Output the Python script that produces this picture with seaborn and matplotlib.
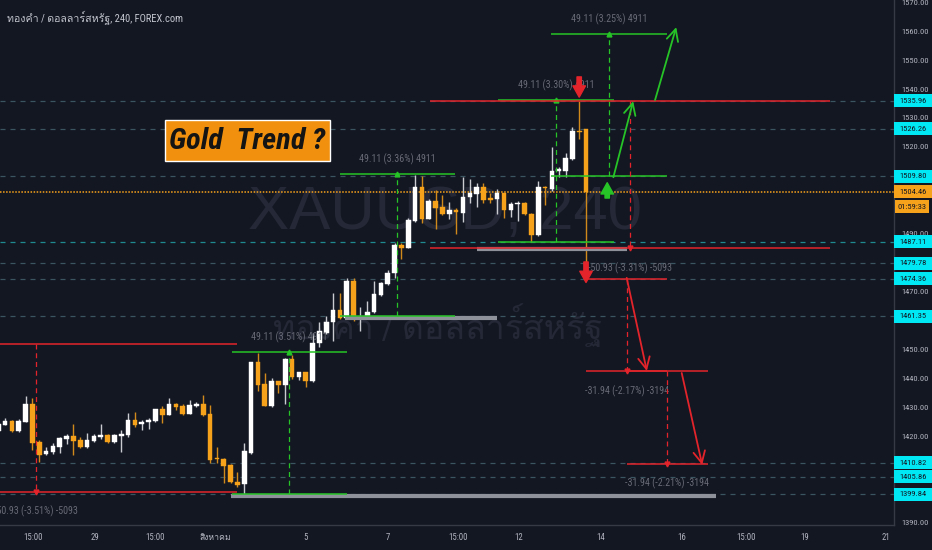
import numpy as np
import pandas as pd
import matplotlib
matplotlib.use("Agg")
import matplotlib.pyplot as plt
import matplotlib.transforms as mtransforms
from matplotlib.patches import Rectangle
from matplotlib import font_manager
from matplotlib.ft2font import FT2Font
import seaborn as sns

# 4H candles, XAUUSD
opens = [
    1421.7, 1423.8, 1425.3, 1421.7, 1424.9, 1431.2, 1417.8, 1413.7, 1414.6, 1416.1,
    1418.8, 1420.0, 1418.6, 1416.1, 1418.3, 1419.5, 1420.3, 1417.8, 1420.0, 1420.3,
    1425.5, 1424.0, 1424.7, 1425.3, 1429.2, 1427.3, 1431.0, 1430.3, 1427.6, 1430.3,
    1431.0, 1427.6, 1412.5, 1412.0, 1410.0, 1404.2, 1403.4, 1414.2, 1445.7, 1438.0,
    1430.5, 1439.0, 1437.6, 1446.5, 1440.5, 1442.0, 1439.1, 1452.0, 1455.7, 1459.3,
    1463.6, 1460.7, 1473.7, 1460.3, 1460.7, 1463.0, 1468.8, 1472.5, 1476.3, 1486.1,
    1484.9, 1494.4, 1506.2, 1495.1, 1501.4, 1499.3, 1496.8, 1498.2, 1497.2, 1502.6,
    1503.6, 1506.2, 1502.4, 1501.9, 1504.0, 1498.0, 1500.1, 1500.7, 1496.8, 1489.5,
    1506.2, 1505.6, 1511.8, 1511.8, 1515.8, 1525.6, 1526.26]
highs = [
    1424.3, 1426.1, 1425.5, 1425.9, 1433.8, 1433.3, 1418.6, 1416.3, 1417.7, 1419.5,
    1420.6, 1424.3, 1419.8, 1420.9, 1420.6, 1424.0, 1420.6, 1420.6, 1422.1, 1427.8,
    1428.3, 1425.5, 1426.1, 1429.5, 1430.4, 1433.0, 1431.5, 1431.0, 1432.6, 1431.8,
    1434.1, 1430.7, 1416.3, 1412.3, 1410.3, 1407.7, 1417.7, 1445.7, 1448.8, 1441.9,
    1439.9, 1439.0, 1447.1, 1448.0, 1442.0, 1442.0, 1455.5, 1459.5, 1461.5, 1469.3,
    1469.3, 1474.5, 1474.5, 1464.7, 1466.8, 1473.7, 1473.4, 1477.4, 1486.9, 1486.9,
    1495.3, 1510.3, 1509.9, 1501.9, 1505.1, 1503.4, 1501.1, 1498.7, 1509.5, 1508.8,
    1507.4, 1507.4, 1504.0, 1505.4, 1504.0, 1501.1, 1501.4, 1501.1, 1497.0, 1508.3,
    1506.4, 1519.8, 1512.9, 1518.0, 1527.0, 1535.96, 1526.26]
lows = [
    1421.5, 1423.8, 1421.5, 1421.5, 1424.8, 1415.2, 1411.1, 1413.4, 1413.7, 1414.0,
    1417.1, 1413.4, 1415.7, 1415.7, 1418.0, 1418.8, 1417.5, 1417.5, 1414.6, 1419.5,
    1423.2, 1422.1, 1422.5, 1424.9, 1424.6, 1427.3, 1428.9, 1427.3, 1427.6, 1429.9,
    1426.9, 1410.6, 1410.6, 1403.9, 1403.9, 1402.5, 1399.84, 1413.8, 1435.7, 1430.5,
    1430.1, 1435.0, 1431.1, 1439.6, 1439.4, 1436.8, 1438.8, 1450.7, 1455.3, 1452.9,
    1460.3, 1460.3, 1459.9, 1456.3, 1460.3, 1462.7, 1468.4, 1472.2, 1474.5, 1481.1,
    1484.9, 1494.1, 1493.6, 1494.9, 1491.6, 1496.4, 1494.9, 1489.9, 1494.1, 1500.5,
    1499.3, 1500.7, 1500.7, 1496.8, 1495.3, 1495.9, 1494.4, 1496.4, 1487.2, 1489.3,
    1499.9, 1504.8, 1509.7, 1509.7, 1515.5, 1522.6, 1479.8]
closes = [
    1424.0, 1425.3, 1421.7, 1425.3, 1431.2, 1417.5, 1413.4, 1414.9, 1416.5, 1419.2,
    1420.0, 1418.3, 1416.1, 1418.6, 1420.0, 1420.3, 1417.8, 1420.3, 1420.6, 1425.7,
    1423.8, 1424.9, 1425.7, 1429.2, 1427.3, 1431.0, 1430.1, 1427.6, 1430.6, 1431.0,
    1427.1, 1411.7, 1411.9, 1409.8, 1404.0, 1403.1, 1414.9, 1445.7, 1437.6, 1430.5,
    1439.1, 1437.6, 1446.5, 1440.5, 1442.0, 1439.1, 1452.3, 1456.4, 1459.5, 1463.6,
    1460.7, 1473.7, 1460.3, 1460.9, 1463.0, 1469.1, 1472.8, 1476.5, 1486.1, 1484.9,
    1494.7, 1506.2, 1494.9, 1501.4, 1499.0, 1496.8, 1498.2, 1497.4, 1502.8, 1504.0,
    1506.2, 1501.6, 1501.6, 1504.0, 1498.0, 1500.3, 1500.7, 1496.7, 1489.5, 1506.2,
    1505.9, 1511.8, 1512.2, 1516.0, 1525.6, 1525.3, 1504.46]

tick_pos = [5.1, 14.2, 22.9, 31.7, 45.0, 57.0, 67.3, 76.1, 88.1, 100.0, 109.4, 118.0, 129.9]
tick_labels = ['15:00', '29', '15:00', 'สิงหาคม', '5', '7', '15:00', '12', '14', '16', '15:00', '19', '21']
price_ticks = [1570, 1560, 1550, 1540, 1530, 1520, 1490, 1470, 1450, 1440, 1430, 1420, 1390]

level_prices = [1535.96, 1526.26, 1509.80, 1487.11, 1479.78, 1474.36, 1461.35, 1410.82, 1405.86, 1399.84]
last_price = 1504.46
countdown = '01:59:33'

title = 'ทองคำ / ดอลลาร์สหรัฐ, 240, FOREX.com'
watermark = 'XAUUSD, 240'
watermark_name = 'ทองคำ / ดอลลาร์สหรัฐ'
note = 'Gold  Trend ?'

# price range tools: colour, bar from, bar to, start price, end price, label
green = '#27c427'
red = '#e3242b'
ranges = [
    (red, -23.9, 34.9, 1451.70, 1400.77, '-50.93 (-3.51%) -5093'),
    (green, 34.2, 51.0, 1399.84, 1448.95, '49.11 (3.51%) 4911'),
    (green, 50.0, 66.8, 1461.35, 1510.46, '49.11 (3.36%) 4911'),
    (green, 73.1, 90.1, 1487.11, 1536.22, '49.11 (3.30%) 4911'),
    (green, 80.9, 97.9, 1509.80, 1558.91, '49.11 (3.25%) 4911'),
    (red, 63.2, 121.7, 1535.96, 1485.03, '-50.93 (-3.31%) -5093'),
    (red, 86.0, 97.9, 1474.36, 1442.42, '-31.94 (-2.17%) -3194'),
    (red, 92.0, 103.8, 1442.42, 1410.48, '-31.94 (-2.21%) -3194'),
]
# gray marker bars: price, from, to
gray_bars = [(1399.2, 34.1, 105.0), (1460.8, 50.7, 73.0), (1484.6, 70.0, 92.0)]
# drawn trend arrows: (x0, p0) -> (x1, p1)
trend_arrows = [
    (green, 90.0, 1509.5, 92.9, 1535.8),
    (green, 96.1, 1536.2, 99.2, 1561.4),
    (red, 91.95, 1474.7, 94.9, 1442.5),
    (red, 100.0, 1441.8, 103.0, 1410.0),
]
# arrow marks: x, tail price, tip price
mark_arrows = [(red, 85.0, 1544.2, 1537.2), (red, 86.0, 1480.2, 1473.1), (green, 89.1, 1502.3, 1507.6)]


def find_thai_font():
    for f in font_manager.fontManager.ttflist:
        try:
            if 0x0E2A in FT2Font(f.fname).get_charmap():
                return f.name
        except Exception:
            continue
    return None


def find_narrow_font():
    names = {f.name for f in font_manager.fontManager.ttflist}
    for n in ['Liberation Sans Narrow', 'Roboto Condensed', 'Open Sans Condensed', 'DejaVu Sans Condensed']:
        if n in names:
            return n
    return 'Liberation Sans'


bg = '#131722'
sns.set_theme(style='dark', rc={'axes.facecolor': bg, 'figure.facecolor': bg,
                                'axes.edgecolor': '#363a45', 'axes.grid': False})
thai = find_thai_font()
narrow = find_narrow_font()
families = [narrow] + ([thai] if thai else []) + ['DejaVu Sans']
plt.rcParams['font.family'] = families

df = pd.DataFrame({'open': opens, 'high': highs, 'low': lows, 'close': closes})
df['x'] = np.arange(len(df))
df['up'] = df['close'] >= df['open']

fig = plt.figure(figsize=(9.32, 5.5), dpi=100)
ax = fig.add_axes([0, 25 / 550, 894 / 932, 525 / 550])
ax.set_xlim(0.26, 131.06)
ax.set_ylim(1389.23, 1570.79)
renderer = fig.canvas.get_renderer()


def fit_size(text, width_px, **kw):
    t = fig.text(0, 0, text, fontsize=10, **kw)
    w = t.get_window_extent(renderer=renderer).width
    t.remove()
    return 10 * width_px / w


fs_small = fit_size('49.11 (3.36%) 4911', 76)
fs_price = fit_size('1570.00', 27)
fs_time = fit_size('15:00', 19)
fs_title = fit_size(title, 176)
fs_note = fit_size(note, 156, fontweight='bold', fontstyle='italic')

# watermark
ax.text(0.498, 0.594, watermark, transform=ax.transAxes, ha='center', va='center',
        fontsize=fit_size(watermark, 395, family='Liberation Sans'), color='#252937',
        family=['Liberation Sans'] + families, zorder=0.5)
ax.text(0.49, 0.381, watermark_name, transform=ax.transAxes, ha='center', va='center',
        fontsize=fit_size(watermark_name, 330), color='#252937', zorder=0.5)

# horizontal levels
for p in level_prices:
    c = '#1f8a90' if p == 1487.11 else '#3b5560'
    ax.axhline(p, color=c, lw=0.9, ls=(0, (4, 4)), zorder=1)
ax.axhline(last_price, color='#f7a21b', lw=1.1, ls=(0, (1, 1)), zorder=1)

# candles
up_col, dn_col = '#ffffff', '#f7a21b'
colors = np.where(df['up'], up_col, dn_col)
wick_cols = np.where(df['up'], '#c9cbd1', '#d08a1c')
ax.vlines(df['x'], df['low'], df['high'], colors=wick_cols, lw=1, zorder=3)
body_low = df[['open', 'close']].min(axis=1)
body_h = (df['close'] - df['open']).abs().clip(lower=0.35)
ax.bar(df['x'], body_h, bottom=body_low, width=0.68, color=colors, edgecolor=colors,
       linewidth=0.3, zorder=3.1)

# price range tools
for color, x0, x1, start, end, text in ranges:
    xm = (x0 + x1) / 2
    ax.hlines([start, end], x0, x1, colors=color, lw=1.1, zorder=4)
    ax.vlines(xm, start, end, colors=color, lw=0.9, linestyles=(0, (4, 3)), zorder=4)
    ax.plot(xm, end, marker='^' if end > start else 'v', color=color, ms=3.5, zorder=4)
    off = 15 if end > start else -20
    ax.annotate(text, (xm, end), xytext=(0, off), textcoords='offset pixels', ha='center',
                va='center', color='#686b76', fontsize=fs_small, zorder=4, annotation_clip=False)

for p, x0, x1 in gray_bars:
    ax.hlines(p, x0, x1, colors='#8e9199', lw=3, zorder=3.5)

for color, x0, p0, x1, p1 in trend_arrows:
    ax.annotate('', xy=(x1, p1), xytext=(x0, p0),
                arrowprops=dict(arrowstyle='->,head_length=0.7,head_width=0.35', color=color,
                                lw=1.3, shrinkA=0, shrinkB=0, mutation_scale=12), zorder=4.5)

for color, x, p0, p1 in mark_arrows:
    ax.annotate('', xy=(x, p1), xytext=(x, p0),
                arrowprops=dict(arrowstyle='simple,head_width=1.0,head_length=0.9,tail_width=0.35',
                                color=color, shrinkA=0, shrinkB=0, mutation_scale=9), zorder=5)

# note box
ax.add_patch(Rectangle((165 / 894, 1 - 161 / 525), 165 / 894, 41 / 525, transform=ax.transAxes,
                       facecolor='#f0900e', edgecolor='white', lw=1, zorder=6))
ax.text(247.5 / 894, 1 - 141 / 525, note, transform=ax.transAxes, ha='center', va='center',
        fontsize=fs_note, fontweight='bold', fontstyle='italic', color='#141414', zorder=7)

# title
fig.text(7 / 932, 1 - 18 / 550, title, ha='left', va='center', fontsize=fs_title, color='#c3c6ce')

# axes styling
for s in ['left', 'top']:
    ax.spines[s].set_visible(False)
for s in ['right', 'bottom']:
    ax.spines[s].set_color('#363a45')
    ax.spines[s].set_linewidth(1)
ax.yaxis.tick_right()
ax.set_yticks(price_ticks)
ax.set_yticklabels([f'{v:.2f}' for v in price_ticks])
ax.tick_params(axis='y', length=0, pad=5, labelsize=fs_price, labelcolor='#b2b5be')
ax.set_xticks(tick_pos)
ax.set_xticklabels(tick_labels)
ax.tick_params(axis='x', length=0, pad=6, labelsize=fs_time, labelcolor='#b2b5be')

# price scale labels
tr = mtransforms.blended_transform_factory(ax.transAxes, ax.transData)
box_w = 38 / 894
box_h = 13 * 0.34583
for p in level_prices:
    ax.add_patch(Rectangle((1.0, p - box_h / 2), box_w, box_h, transform=tr, clip_on=False,
                           facecolor='#00e8f4', edgecolor='none', zorder=10))
    ax.text(1.0 + box_w / 2, p, f'{p:.2f}', transform=tr, ha='center', va='center',
            fontsize=fs_price, color='#131722', clip_on=False, zorder=11)
ax.add_patch(Rectangle((1.0, last_price - box_h / 2), box_w, box_h, transform=tr, clip_on=False,
                       facecolor='#f7a21b', edgecolor='none', zorder=10))
ax.text(1.0 + box_w / 2, last_price, f'{last_price:.2f}', transform=tr, ha='center', va='center',
        fontsize=fs_price, color='#131722', clip_on=False, zorder=11)
cd_p = last_price - 15 * 0.34583
ax.add_patch(Rectangle((1.0 + 1 / 894, cd_p - box_h / 2), 34 / 894, box_h, transform=tr,
                       clip_on=False, facecolor='#f7a21b', edgecolor='none', zorder=10))
ax.text(1.0 + 18 / 894, cd_p, countdown, transform=tr, ha='center', va='center',
        fontsize=fs_price, color='#131722', clip_on=False, zorder=11)

fig.savefig('out.png', dpi=100, facecolor=bg)
